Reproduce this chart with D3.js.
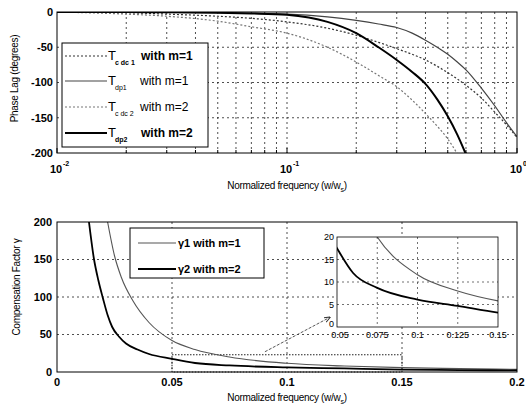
<!DOCTYPE html>
<html>
<head>
<meta charset="utf-8">
<script src="https://cdn.jsdelivr.net/npm/d3@7"></script>
<style>
body { margin: 0; background: #fff; }
text { font-family: "Liberation Sans", Arial, sans-serif; fill: #000; }
</style>
</head>
<body>
<svg id="chart" width="526" height="414"></svg>
<script>
// phase lag curves (top plot)
var phaseFreq = [0.01, 0.02, 0.03, 0.05, 0.07, 0.1, 0.15, 0.2, 0.25, 0.3, 0.35, 0.4, 0.45, 0.5, 0.55, 0.6, 0.7, 0.8, 0.9, 1.0];
var tCdc1 = [0, -1, -3, -6, -9, -14, -23, -33, -43, -52, -60, -68, -77, -86, -95, -104, -122, -142, -160, -178];
var tDp1  = [0, 0, -0.5, -1, -2, -3, -7, -12, -17, -22, -30, -40, -50, -60, -71, -82, -108, -133, -157, -177];
var tCdc2 = [0, -3, -6, -13, -21, -30, -50, -71, -90, -106, -125, -144, -162, -180, -201, null, null, null, null, null];
var tDp2  = [0, 0, -0.5, -1, -2, -4, -14, -30, -50, -68, -85, -102, -124, -148, -174, -202, null, null, null, null];
var phaseTicks = [0, -50, -100, -150, -200];

// compensation factor (bottom plot)
var gamma1Freq = [0.022, 0.025, 0.028, 0.033, 0.04, 0.05, 0.06, 0.075, 0.1, 0.125, 0.15, 0.175, 0.2];
var gamma1 = [200, 155, 126, 95, 66, 42, 30, 20, 11.6, 8, 5.8, 4.5, 3.5];
var gamma2Freq = [0.0139, 0.016, 0.018, 0.02, 0.022, 0.024, 0.027, 0.03, 0.035, 0.04, 0.05, 0.06, 0.075, 0.1, 0.125, 0.15, 0.175, 0.2];
var gamma2 = [200, 152, 122, 98, 76, 60, 47, 38, 30, 24, 17.5, 12, 8.7, 6.1, 4.7, 3.2, 2.6, 2.1];
var gammaXTicks = [0, 0.05, 0.1, 0.15, 0.2];
var gammaYTicks = [0, 50, 100, 150, 200];
var insetXTicks = [0.05, 0.075, 0.1, 0.125, 0.15];
var insetYTicks = [0, 5, 10, 15, 20];
var zoomBox = {x0: 0.05, x1: 0.15, y0: 0, y1: 23};
var arrowFrom = [0.0904, 27], arrowTo = [0.1187, 73];

var svg = d3.select("#chart");
var gridDash = "2,3";

function zip(xs, ys) {
    return xs.map(function(x, i) { return [x, ys[i]]; });
}

// ---------- top plot ----------
var p1 = {left: 57, top: 12, width: 460, height: 141};
var x1 = d3.scaleLog().domain([0.01, 1]).range([p1.left, p1.left + p1.width]);
var y1 = d3.scaleLinear().domain([-200, 0]).range([p1.top + p1.height, p1.top]);

svg.append("clipPath").attr("id", "clip1").append("rect")
    .attr("x", p1.left).attr("y", p1.top).attr("width", p1.width).attr("height", p1.height);

var logTicks = x1.ticks().filter(function(d) { return d > 0.0101 && d < 0.99; });
svg.append("g").selectAll("line").data(logTicks).enter().append("line")
    .attr("x1", function(d) { return x1(d); }).attr("x2", function(d) { return x1(d); })
    .attr("y1", p1.top).attr("y2", p1.top + p1.height)
    .attr("stroke", "#222").attr("stroke-width", 0.8).attr("stroke-dasharray", gridDash);
svg.append("g").selectAll("line").data(phaseTicks.slice(1, 4)).enter().append("line")
    .attr("x1", p1.left).attr("x2", p1.left + p1.width)
    .attr("y1", function(d) { return y1(d); }).attr("y2", function(d) { return y1(d); })
    .attr("stroke", "#222").attr("stroke-width", 0.8).attr("stroke-dasharray", gridDash);

// inward ticks
var allLog = x1.ticks();
svg.append("g").selectAll("line").data(allLog).enter().append("line")
    .attr("x1", function(d) { return x1(d); }).attr("x2", function(d) { return x1(d); })
    .attr("y1", p1.top + p1.height)
    .attr("y2", function(d) { var major = Math.abs(Math.log10(d) - Math.round(Math.log10(d))) < 1e-6; return p1.top + p1.height - (major ? 5 : 3); })
    .attr("stroke", "#000");

var lineTop = d3.line()
    .defined(function(d) { return d[1] != null; })
    .x(function(d) { return x1(d[0]); })
    .y(function(d) { return y1(d[1]); })
    .curve(d3.curveMonotoneX);

var topSeries = [
    {data: tCdc2, color: "#777", width: 1.2, dash: "2,2"},
    {data: tCdc1, color: "#333", width: 1.2, dash: "2,2"},
    {data: tDp1, color: "#444", width: 1.2, dash: null},
    {data: tDp2, color: "#000", width: 2, dash: null}
];
var curves1 = svg.append("g").attr("clip-path", "url(#clip1)");
topSeries.forEach(function(s) {
    curves1.append("path").attr("d", lineTop(zip(phaseFreq, s.data)))
        .attr("fill", "none").attr("stroke", s.color).attr("stroke-width", s.width)
        .attr("stroke-dasharray", s.dash);
});

svg.append("rect").attr("x", p1.left).attr("y", p1.top).attr("width", p1.width).attr("height", p1.height)
    .attr("fill", "none").attr("stroke", "#000");

svg.append("g").selectAll("text").data(phaseTicks).enter().append("text")
    .attr("x", p1.left - 4).attr("y", function(d) { return y1(d); }).attr("dy", "0.35em")
    .attr("text-anchor", "end").attr("font-size", 11).attr("font-weight", "bold")
    .text(function(d) { return d; });

[0.01, 0.1, 1].forEach(function(d) {
    var e = Math.round(Math.log10(d));
    svg.append("text").attr("x", x1(d) - 1).attr("y", 173)
        .attr("text-anchor", "middle").attr("font-size", 11).attr("font-weight", "bold").text("10");
    svg.append("text").attr("x", x1(d) + 6).attr("y", 166)
        .attr("font-size", 7).attr("font-weight", "bold").text(e === 0 ? "0" : String(e));
});

var xl1 = svg.append("text").attr("x", p1.left + p1.width / 2).attr("y", 189)
    .attr("text-anchor", "middle").attr("font-size", 10).attr("letter-spacing", -0.3)
    .text("Normalized frequency (w/w");
xl1.append("tspan").attr("font-size", 7).attr("dy", 3).text("s");
xl1.append("tspan").attr("dy", -3).text(")");

svg.append("text").attr("transform", "translate(18," + (p1.top + p1.height / 2 - 4) + ") rotate(-90)")
    .attr("text-anchor", "middle").attr("font-size", 10).attr("letter-spacing", -0.3)
    .text("Phase Lag (degrees)");

// top legend
var leg1 = {x: 62, y: 43, w: 146, h: 104};
svg.append("rect").attr("x", leg1.x).attr("y", leg1.y).attr("width", leg1.w).attr("height", leg1.h)
    .attr("fill", "#fff").attr("stroke", "#000");
var legendRows = [
    {sub: "c dc 1", txt: "with m=1", s: topSeries[1], bold: true},
    {sub: "dp1", txt: "with m=1", s: topSeries[2], bold: false},
    {sub: "c dc 2", txt: "with m=2", s: topSeries[0], bold: false},
    {sub: "dp2", txt: "with m=2", s: topSeries[3], bold: true}
];
var rowY = [56, 81, 107, 133];
legendRows.forEach(function(r, i) {
    var yy = rowY[i];
    svg.append("line").attr("x1", 65).attr("x2", 107).attr("y1", yy).attr("y2", yy)
        .attr("stroke", r.s.color).attr("stroke-width", r.s.width).attr("stroke-dasharray", r.s.dash);
    svg.append("text").attr("x", 108).attr("y", yy + 4).attr("font-size", 13).text("T");
    svg.append("text").attr("x", 115).attr("y", yy + 9).attr("font-size", 7)
        .attr("font-weight", r.bold ? "bold" : "normal").text(r.sub);
    svg.append("text").attr("x", r.bold ? 141 : 140).attr("y", yy + 4).attr("font-size", 12)
        .attr("font-weight", r.bold ? "bold" : "normal").attr("fill", r.bold ? "#000" : "#333")
        .text(r.txt);
});

// ---------- bottom plot ----------
var p2 = {left: 57, top: 222, width: 460, height: 150};
var x2 = d3.scaleLinear().domain([0, 0.2]).range([p2.left, p2.left + p2.width]);
var y2 = d3.scaleLinear().domain([0, 200]).range([p2.top + p2.height, p2.top]);

svg.append("clipPath").attr("id", "clip2").append("rect")
    .attr("x", p2.left).attr("y", p2.top).attr("width", p2.width).attr("height", p2.height);

svg.append("g").selectAll("line").data(gammaXTicks.slice(1, 4)).enter().append("line")
    .attr("x1", function(d) { return x2(d); }).attr("x2", function(d) { return x2(d); })
    .attr("y1", p2.top).attr("y2", p2.top + p2.height)
    .attr("stroke", "#222").attr("stroke-width", 0.8).attr("stroke-dasharray", gridDash);
svg.append("g").selectAll("line").data(gammaYTicks.slice(1, 4)).enter().append("line")
    .attr("x1", p2.left).attr("x2", p2.left + p2.width)
    .attr("y1", function(d) { return y2(d); }).attr("y2", function(d) { return y2(d); })
    .attr("stroke", "#222").attr("stroke-width", 0.8).attr("stroke-dasharray", gridDash);

// dotted zoom region
svg.append("rect").attr("x", x2(zoomBox.x0)).attr("y", y2(zoomBox.y1))
    .attr("width", x2(zoomBox.x1) - x2(zoomBox.x0)).attr("height", y2(zoomBox.y0) - y2(zoomBox.y1))
    .attr("fill", "none").attr("stroke", "#222").attr("stroke-width", 1).attr("stroke-dasharray", "1.5,1.5");

var lineBottom = d3.line()
    .x(function(d) { return x2(d[0]); })
    .y(function(d) { return y2(d[1]); })
    .curve(d3.curveMonotoneX);
var curves2 = svg.append("g").attr("clip-path", "url(#clip2)");
curves2.append("path").attr("d", lineBottom(zip(gamma1Freq, gamma1)))
    .attr("fill", "none").attr("stroke", "#555").attr("stroke-width", 1.1);
curves2.append("path").attr("d", lineBottom(zip(gamma2Freq, gamma2)))
    .attr("fill", "none").attr("stroke", "#000").attr("stroke-width", 1.8);

svg.append("rect").attr("x", p2.left).attr("y", p2.top).attr("width", p2.width).attr("height", p2.height)
    .attr("fill", "none").attr("stroke", "#000");

svg.append("g").selectAll("text").data(gammaYTicks).enter().append("text")
    .attr("x", p2.left - 5).attr("y", function(d) { return y2(d); }).attr("dy", "0.35em")
    .attr("text-anchor", "end").attr("font-size", 11).attr("font-weight", "bold")
    .text(function(d) { return d; });
svg.append("g").selectAll("text").data(gammaXTicks).enter().append("text")
    .attr("x", function(d) { return x2(d); }).attr("y", 386)
    .attr("text-anchor", "middle").attr("font-size", 11).attr("font-weight", "bold")
    .text(function(d) { return d; });

var xl2 = svg.append("text").attr("x", p2.left + p2.width / 2).attr("y", 401)
    .attr("text-anchor", "middle").attr("font-size", 10).attr("letter-spacing", -0.3)
    .text("Normalized frequency (w/w");
xl2.append("tspan").attr("font-size", 7).attr("dy", 3).text("s");
xl2.append("tspan").attr("dy", -3).text(")");

svg.append("text").attr("transform", "translate(20," + (p2.top + p2.height / 2 - 10) + ") rotate(-90)")
    .attr("text-anchor", "middle").attr("font-size", 10).attr("letter-spacing", -0.3)
    .text("Compensation Factor \u03b3");

// bottom legend
svg.append("rect").attr("x", 130).attr("y", 228).attr("width", 134).attr("height", 50)
    .attr("fill", "#fff").attr("stroke", "#000");
[{txt: "\u03b31 with m=1", c: "#555", w: 1.1, y: 243}, {txt: "\u03b32 with m=2", c: "#000", w: 1.8, y: 269}]
    .forEach(function(r) {
        svg.append("line").attr("x1", 138).attr("x2", 176).attr("y1", r.y).attr("y2", r.y)
            .attr("stroke", r.c).attr("stroke-width", r.w);
        svg.append("text").attr("x", 178).attr("y", r.y + 4).attr("font-size", 11)
            .attr("font-weight", "bold").text(r.txt);
    });

// arrow
svg.append("defs").append("marker").attr("id", "arrow").attr("viewBox", "0 0 10 10")
    .attr("refX", 9).attr("refY", 5).attr("markerWidth", 7).attr("markerHeight", 7)
    .attr("orient", "auto").append("path").attr("d", "M0,1L10,5L0,9").attr("fill", "none").attr("stroke", "#333").attr("stroke-width", 1.5);
svg.append("line").attr("x1", x2(arrowFrom[0])).attr("y1", y2(arrowFrom[1]))
    .attr("x2", x2(arrowTo[0])).attr("y2", y2(arrowTo[1]))
    .attr("stroke", "#444").attr("stroke-width", 0.9).attr("stroke-dasharray", "3,1.5")
    .attr("marker-end", "url(#arrow)");

// ---------- inset ----------
var p3 = {left: 337, top: 237, width: 161, height: 90};
var x3 = d3.scaleLinear().domain([0.05, 0.15]).range([p3.left, p3.left + p3.width]);
var y3 = d3.scaleLinear().domain([0, 20]).range([p3.top + p3.height, p3.top]);
svg.append("rect").attr("x", p3.left).attr("y", p3.top).attr("width", p3.width).attr("height", p3.height)
    .attr("fill", "#fff");
svg.append("clipPath").attr("id", "clip3").append("rect")
    .attr("x", p3.left).attr("y", p3.top).attr("width", p3.width).attr("height", p3.height);
svg.append("g").selectAll("line").data(insetXTicks.slice(1, 4)).enter().append("line")
    .attr("x1", function(d) { return x3(d); }).attr("x2", function(d) { return x3(d); })
    .attr("y1", p3.top).attr("y2", p3.top + p3.height)
    .attr("stroke", "#333").attr("stroke-width", 0.7).attr("stroke-dasharray", gridDash);
svg.append("g").selectAll("line").data(insetYTicks.slice(1, 4)).enter().append("line")
    .attr("x1", p3.left).attr("x2", p3.left + p3.width)
    .attr("y1", function(d) { return y3(d); }).attr("y2", function(d) { return y3(d); })
    .attr("stroke", "#333").attr("stroke-width", 0.7).attr("stroke-dasharray", gridDash);

var lineInset = d3.line()
    .x(function(d) { return x3(d[0]); })
    .y(function(d) { return y3(d[1]); })
    .curve(d3.curveMonotoneX);
var curves3 = svg.append("g").attr("clip-path", "url(#clip3)");
curves3.append("path").attr("d", lineInset(zip(gamma1Freq, gamma1)))
    .attr("fill", "none").attr("stroke", "#555").attr("stroke-width", 1.1);
curves3.append("path").attr("d", lineInset(zip(gamma2Freq, gamma2)))
    .attr("fill", "none").attr("stroke", "#000").attr("stroke-width", 1.8);

svg.append("rect").attr("x", p3.left).attr("y", p3.top).attr("width", p3.width).attr("height", p3.height)
    .attr("fill", "none").attr("stroke", "#000").attr("stroke-width", 0.8);

svg.append("g").selectAll("text").data(insetYTicks).enter().append("text")
    .attr("x", p3.left - 3).attr("y", function(d) { return y3(d) - (d === 0 ? 3 : 0); }).attr("dy", "0.35em")
    .attr("text-anchor", "end").attr("font-size", 9).attr("fill", "#222")
    .text(function(d) { return d; });
svg.append("g").selectAll("text").data(insetXTicks).enter().append("text")
    .attr("x", function(d) { return x3(d) + (d === 0.05 ? 3 : 0); }).attr("y", p3.top + p3.height + 11)
    .attr("text-anchor", "middle").attr("font-size", 9).attr("fill", "#222")
    .text(function(d) { return d; });
</script>
</body>
</html>
